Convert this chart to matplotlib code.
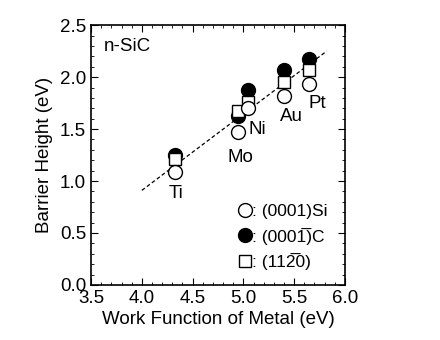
import matplotlib.pyplot as plt
from matplotlib.ticker import MultipleLocator

plt.rcParams['font.family'] = ['Liberation Sans', 'DejaVu Sans']

metals = ["Ti", "Mo", "Ni", "Au", "Pt"]
work_function = [4.33, 4.95, 5.05, 5.40, 5.65]
bh_si = [1.09, 1.47, 1.70, 1.82, 1.93]
bh_c = [1.25, 1.63, 1.88, 2.07, 2.17]
bh_a = [1.21, 1.67, 1.76, 1.95, 2.07]

# fit line endpoints
fit_x = [4.0, 5.82]
fit_y = [0.91, 2.25]

label_pos = {"Ti": (4.34, 0.88), "Mo": (4.97, 1.23), "Ni": (5.14, 1.50),
             "Au": (5.47, 1.62), "Pt": (5.73, 1.75)}

fs = 13.5

fig = plt.figure(figsize=(4.4, 3.4), dpi=100)
ax = fig.add_axes([0.207, 0.162, 0.577, 0.764])

ax.plot(fit_x, fit_y, ls=(0, (3, 2)), color="black", lw=0.9, zorder=1)

ms = 10
ax.plot(work_function, bh_c, "o", color="black", ms=ms, zorder=2,
        label=": (0001\u0305)C")
ax.plot(work_function, bh_a, "s", mfc="white", mec="black", mew=1.0, ms=ms - 1, zorder=3,
        label=": (112\u03050)")
ax.plot(work_function, bh_si, "o", mfc="white", mec="black", mew=1.0, ms=ms, zorder=4,
        label=": (0001)Si")

for m in metals:
    x, y = label_pos[m]
    ax.text(x, y, m, ha="center", va="center", fontsize=fs)

ax.text(3.63, 2.29, "n-SiC", ha="left", va="center", fontsize=fs)

h, l = ax.get_legend_handles_labels()
order = [2, 0, 1]
ax.legend([h[i] for i in order], [l[i] for i in order], loc="lower left",
          bbox_to_anchor=(0.555, 0.03), frameon=False, handlelength=0.7,
          handletextpad=0.05, fontsize=12.5, labelspacing=0.5,
          borderaxespad=0.0, numpoints=1)

ax.set_xlim(3.5, 6.0)
ax.set_ylim(0, 2.5)
ax.xaxis.set_major_locator(MultipleLocator(0.5))
ax.xaxis.set_minor_locator(MultipleLocator(0.1))
ax.yaxis.set_major_locator(MultipleLocator(0.5))
ax.yaxis.set_minor_locator(MultipleLocator(0.1))
ax.tick_params(which="both", direction="in", top=True, right=True, labelsize=fs)
ax.tick_params(which="major", length=5)
ax.tick_params(which="minor", length=2.5)
for s in ax.spines.values():
    s.set_linewidth(1.2)

ax.set_xlabel("Work Function of Metal (eV)", fontsize=fs, labelpad=3)
ax.set_ylabel("Barrier Height (eV)", fontsize=fs, labelpad=5)

fig.savefig("out.png", dpi=100)
